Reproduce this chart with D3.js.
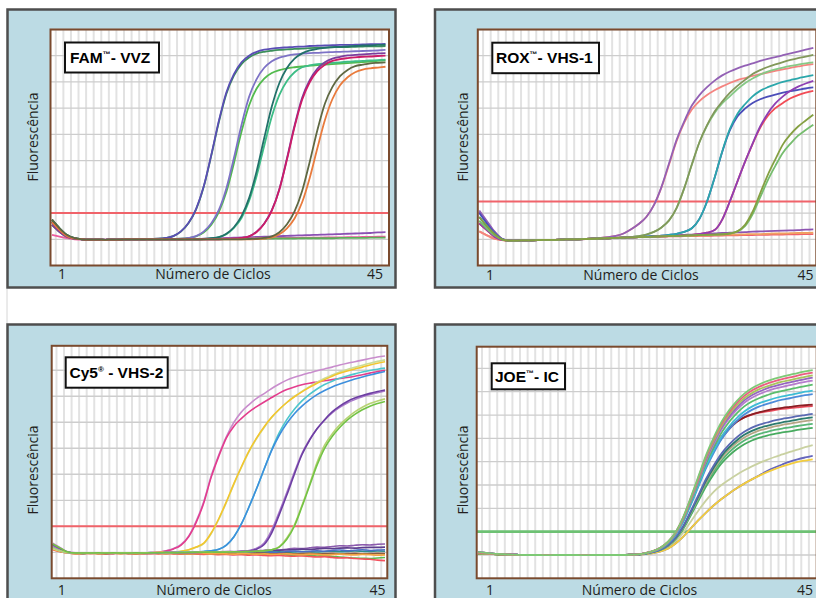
<!DOCTYPE html>
<html>
<head>
<meta charset="utf-8">
<script src="https://cdn.jsdelivr.net/npm/d3@7"></script>
<style>
  body { margin: 0; background: #fff; }
  .axislabel { font-family: "Open Sans", sans-serif; font-size: 14px; fill: #231f20; }
  .title { font-family: "Liberation Sans", Arial, sans-serif; font-weight: bold; font-size: 15.5px; fill: #000; }
</style>
</head>
<body>
<div id="chart"></div>
<script>
// cycle numbers, one value per cycle in every curve below
var cycles = d3.range(1, 46);
var xTickLabels = ["1", "45"];
var xTitle = "Número de Ciclos";
var yTitle = "Fluorescência";

// ---- FAM - VVZ ----
var famTitle = ["FAM", "™", "- VVZ"];
var famThreshold = 2;
var famCurves = [
  [1.55,1.3,1.1,1.02,1,0.99,0.99,0.99,1,1,1,1,1,1,1,1,1,1,1.01,1.01,1.02,1.03,1.04,1.05,1.06,1.07,1.08,1.09,1.1,1.11,1.12,1.13,1.14,1.15,1.16,1.17,1.18,1.19,1.2,1.21,1.22,1.23,1.24,1.26,1.27],
  [1.17,1.1,1.04,1,0.99,0.99,0.99,0.99,1,1,1,1,1,1,1,1,1,1,1,1.01,1.01,1.01,1.02,1.02,1.02,1.03,1.03,1.04,1.04,1.04,1.05,1.05,1.05,1.06,1.06,1.06,1.07,1.07,1.07,1.08,1.08,1.09,1.09,1.1,1.1],
  [1.7,1.38,1.13,1.03,1,0.99,0.99,0.98,0.99,0.99,1,1,1,1,1,1,1,1,1,1,1,1.01,1.01,1.01,1.01,1.02,1.02,1.02,1.02,1.03,1.03,1.03,1.03,1.04,1.04,1.04,1.04,1.04,1.05,1.05,1.05,1.05,1.06,1.06,1.06],
  [1.75,1.42,1.16,1.04,1,0.99,0.99,0.98,0.99,0.99,1,1,1,1.01,1.02,1.05,1.12,1.29,1.61,2.13,2.98,4.17,5.45,6.54,7.24,7.68,7.93,8.08,8.15,8.19,8.22,8.24,8.26,8.27,8.29,8.3,8.31,8.32,8.33,8.33,8.34,8.35,8.36,8.36,8.37],
  [1.65,1.35,1.12,1.03,1,0.99,0.99,0.98,0.99,0.99,1,1,1,1.01,1.02,1.05,1.12,1.3,1.62,2.15,3,4.2,5.5,6.6,7.3,7.75,8,8.15,8.23,8.27,8.3,8.32,8.34,8.35,8.37,8.38,8.39,8.4,8.41,8.41,8.42,8.43,8.44,8.44,8.45],
  [1.55,1.28,1.09,1.02,1,0.99,0.99,0.98,0.99,0.99,1,1,1,1,1,1,1.01,1.02,1.05,1.11,1.26,1.55,2.03,2.8,3.9,5.1,6.1,6.75,7.13,7.34,7.45,7.52,7.56,7.59,7.62,7.64,7.66,7.68,7.7,7.72,7.74,7.76,7.78,7.8,7.82],
  [1.65,1.35,1.12,1.03,1,0.99,0.99,0.98,0.99,0.99,1,1,1,1,1,1,1.01,1.02,1.05,1.12,1.29,1.6,2.11,2.94,4.1,5.36,6.43,7.11,7.54,7.79,7.93,8,8.05,8.08,8.1,8.11,8.13,8.14,8.15,8.16,8.17,8.18,8.19,8.2,8.22],
  [1.65,1.35,1.12,1.03,1,0.99,0.99,0.98,0.99,0.99,1,1,1,1,1,1,1,1,1,1,1.01,1.03,1.08,1.19,1.43,1.81,2.46,3.41,4.57,5.68,6.51,7.04,7.37,7.56,7.63,7.68,7.71,7.73,7.75,7.77,7.79,7.8,7.82,7.83,7.85],
  [1.75,1.42,1.16,1.04,1,0.99,0.99,0.98,0.99,0.99,1,1,1,1,1,1,1,1,1,1,1.01,1.04,1.08,1.21,1.46,1.88,2.57,3.6,4.86,6.06,6.96,7.53,7.89,8.09,8.2,8.26,8.3,8.33,8.34,8.36,8.37,8.39,8.39,8.41,8.42],
  [1.55,1.28,1.09,1.02,1,0.99,0.99,0.98,0.99,0.99,1,1,1,1,1,1,1,1,1,1,1,1,1,1.01,1.02,1.05,1.11,1.29,1.6,2.11,2.92,4.09,5.34,6.4,7.07,7.5,7.75,7.89,7.96,8.01,8.03,8.05,8.07,8.09,8.1],
  [1.65,1.35,1.12,1.03,1,0.99,0.99,0.98,0.99,0.99,1,1,1,1,1,1,1,1,1,1,1,1,1,1.01,1.02,1.05,1.11,1.28,1.59,2.09,2.9,4.04,5.28,6.32,6.99,7.41,7.66,7.8,7.87,7.91,7.94,7.96,7.97,7.99,8],
  [1.65,1.35,1.12,1.03,1,0.99,0.99,0.98,0.99,0.99,1,1,1,1,1,1,1,1,1,1,1,1,1,1,1,1,1,1.01,1.03,1.07,1.19,1.42,1.79,2.41,3.34,4.46,5.54,6.35,6.87,7.18,7.37,7.47,7.52,7.55,7.58],
  [1.75,1.42,1.16,1.04,1,0.99,0.99,0.98,0.99,0.99,1,1,1,1,1,1,1,1,1,1,1,1,1,1,1,1,1.01,1.02,1.05,1.11,1.27,1.57,2.06,2.84,3.95,5.15,6.17,6.81,7.22,7.46,7.6,7.66,7.71,7.73,7.75]
];
var famColors = ["#8b50b4", "#ec5b9d", "#5cae5a", "#3b8f5a", "#5a4db5", "#52bb4e", "#7d72c6",
                 "#3dbd86", "#22716a", "#7b3d9e", "#cc1c68", "#e97b3d", "#5f6842"];

// ---- ROX - VHS-1 ----
var roxTitle = ["ROX", "™", "- VHS-1"];
var roxThreshold = 2.44;
var roxCurves = [
  [2.05,1.65,1.28,1.02,0.95,0.95,0.96,0.96,0.97,0.98,0.98,0.99,1,1,1.01,1.02,1.03,1.04,1.05,1.06,1.08,1.09,1.1,1.12,1.13,1.14,1.16,1.17,1.18,1.2,1.21,1.22,1.24,1.25,1.26,1.27,1.29,1.3,1.31,1.32,1.33,1.34,1.35,1.37,1.38],
  [1.6,1.35,1.1,0.98,0.95,0.95,0.96,0.96,0.97,0.98,0.98,0.99,1,1,1.01,1.02,1.03,1.04,1.05,1.06,1.07,1.08,1.09,1.1,1.1,1.11,1.11,1.12,1.12,1.13,1.13,1.14,1.14,1.15,1.15,1.16,1.16,1.17,1.17,1.18,1.18,1.19,1.19,1.2,1.2],
  [1.3,1.15,1.02,0.97,0.95,0.95,0.96,0.96,0.97,0.98,0.98,0.99,1,1,1.01,1.02,1.03,1.04,1.05,1.06,1.07,1.08,1.09,1.1,1.11,1.12,1.12,1.13,1.14,1.15,1.15,1.16,1.17,1.18,1.18,1.19,1.2,1.2,1.21,1.22,1.22,1.23,1.24,1.24,1.25],
  [1.3,1.15,1.02,0.97,0.95,0.95,0.96,0.96,0.97,0.98,0.98,0.99,1,1,1.01,1.03,1.05,1.08,1.13,1.22,1.38,1.58,1.85,2.3,2.98,3.85,4.75,5.45,5.95,6.27,6.5,6.68,6.83,6.96,7.07,7.15,7.23,7.3,7.36,7.42,7.48,7.54,7.59,7.64,7.68],
  [2.1,1.7,1.3,1.02,0.95,0.95,0.96,0.96,0.97,0.98,0.98,0.99,1,1,1.01,1.03,1.05,1.08,1.13,1.22,1.38,1.58,1.85,2.3,3,3.9,4.8,5.5,6.1,6.5,6.8,7.05,7.25,7.4,7.52,7.62,7.71,7.8,7.88,7.95,8.02,8.09,8.16,8.23,8.3],
  [1.7,1.4,1.15,0.99,0.95,0.95,0.96,0.96,0.97,0.98,0.98,0.99,1,1,1.01,1.02,1.03,1.04,1.05,1.07,1.09,1.12,1.18,1.28,1.45,1.72,2.2,2.95,3.85,4.7,5.33,5.82,6.18,6.45,6.72,6.95,7.13,7.28,7.39,7.48,7.55,7.61,7.66,7.71,7.75],
  [1.85,1.5,1.2,1,0.95,0.95,0.96,0.96,0.97,0.98,0.98,0.99,1,1,1.01,1.02,1.03,1.04,1.05,1.07,1.09,1.12,1.18,1.28,1.45,1.72,2.2,2.95,3.85,4.7,5.35,5.87,6.25,6.58,6.85,7.08,7.3,7.45,7.57,7.67,7.76,7.84,7.91,7.97,8.03],
  [2,1.6,1.25,1.01,0.95,0.95,0.96,0.96,0.97,0.98,0.98,0.99,1,1,1.01,1.02,1.03,1.04,1.05,1.06,1.07,1.08,1.1,1.12,1.14,1.17,1.21,1.28,1.42,1.78,2.44,3.35,4.33,5.15,5.68,5.98,6.2,6.34,6.44,6.52,6.59,6.65,6.7,6.75,6.79],
  [1.85,1.5,1.2,1,0.95,0.95,0.96,0.96,0.97,0.98,0.98,0.99,1,1,1.01,1.02,1.03,1.04,1.05,1.06,1.07,1.08,1.1,1.12,1.14,1.17,1.21,1.28,1.42,1.78,2.44,3.35,4.35,5.2,5.78,6.15,6.45,6.66,6.8,6.91,7,7.07,7.14,7.2,7.26],
  [1.6,1.35,1.1,0.98,0.95,0.95,0.96,0.96,0.97,0.98,0.98,0.99,1,1,1.01,1.02,1.03,1.04,1.05,1.06,1.07,1.08,1.09,1.1,1.11,1.12,1.13,1.15,1.17,1.2,1.25,1.35,1.75,2.44,3.2,3.95,4.63,5.25,5.7,6,6.2,6.38,6.5,6.59,6.66],
  [1.6,1.35,1.1,0.98,0.95,0.95,0.96,0.96,0.97,0.98,0.98,0.99,1,1,1.01,1.02,1.03,1.04,1.05,1.06,1.07,1.08,1.09,1.1,1.11,1.12,1.13,1.15,1.17,1.2,1.25,1.35,1.75,2.44,3.2,3.95,4.65,5.3,5.8,6.18,6.45,6.66,6.82,6.94,7.04],
  [1.7,1.4,1.15,0.99,0.95,0.95,0.96,0.96,0.97,0.98,0.98,0.99,1,1,1.01,1.02,1.03,1.04,1.05,1.06,1.07,1.08,1.09,1.1,1.11,1.12,1.13,1.14,1.15,1.16,1.17,1.18,1.19,1.22,1.3,1.5,1.95,2.6,3.25,3.8,4.3,4.65,4.95,5.17,5.37],
  [1.85,1.5,1.2,1,0.95,0.95,0.96,0.96,0.97,0.98,0.98,0.99,1,1,1.01,1.02,1.03,1.04,1.05,1.06,1.07,1.08,1.09,1.1,1.11,1.12,1.13,1.14,1.15,1.16,1.17,1.18,1.19,1.22,1.3,1.55,2.05,2.75,3.45,4.05,4.62,5,5.3,5.53,5.75]
];
var roxColors = ["#8d53b1", "#f0616b", "#f0a062", "#f48480", "#9361b5", "#86c986", "#82985a",
                 "#4b4db9", "#2ba7ab", "#f24b55", "#8f3fb3", "#76bd6e", "#85a042"];

// ---- Cy5 - VHS-2 ----
var cy5Title = ["Cy5", "®", " - VHS-2"];
var cy5Threshold = 2;
var cy5Curves = [
  [1.3,1.15,1,0.97,0.96,0.97,0.98,0.97,0.96,0.97,0.98,0.97,0.96,0.97,0.98,0.97,0.98,0.99,0.98,1,1.01,1,1.02,1.03,1.02,1.04,1.06,1.05,1.08,1.1,1.09,1.12,1.15,1.14,1.17,1.2,1.19,1.22,1.25,1.24,1.27,1.29,1.28,1.31,1.32],
  [1.25,1.1,0.99,0.97,0.97,0.96,0.97,0.98,0.97,0.96,0.97,0.98,0.97,0.97,0.98,0.98,0.97,0.98,0.99,0.98,0.99,1,1.01,1,1.02,1.03,1.02,1.05,1.06,1.05,1.08,1.09,1.1,1.12,1.11,1.13,1.15,1.14,1.16,1.17,1.16,1.18,1.19,1.19,1.2],
  [1.2,1.07,0.99,0.97,0.96,0.97,0.96,0.97,0.98,0.97,0.96,0.97,0.97,0.98,0.97,0.96,0.97,0.98,0.97,0.98,0.99,0.98,0.97,0.99,1,0.99,1.01,1,0.99,1.01,1.02,1,1.01,1.03,1.02,1.01,1.03,1.04,1.02,1.03,1.05,1.04,1.03,1.05,1.04],
  [1.18,1.06,0.98,0.96,0.96,0.97,0.98,0.96,0.97,0.97,0.98,0.96,0.97,0.98,0.97,0.98,0.96,0.97,0.98,0.97,0.96,0.98,0.99,0.97,0.98,1,0.98,0.99,1.02,1,0.99,1.03,1.05,1.02,1.04,1.06,1.04,1.07,1.09,1.06,1.08,1.1,1.07,1.09,1.1],
  [1.32,1.16,1,0.97,0.96,0.97,0.96,0.97,0.98,0.96,0.97,0.96,0.97,0.97,0.96,0.97,0.96,0.95,0.96,0.97,0.95,0.96,0.94,0.95,0.96,0.94,0.93,0.95,0.92,0.91,0.93,0.9,0.89,0.9,0.88,0.86,0.87,0.84,0.82,0.8,0.78,0.77,0.76,0.78,0.8],
  [1.1,1.02,0.97,0.95,0.95,0.96,0.95,0.94,0.95,0.96,0.95,0.94,0.95,0.95,0.94,0.95,0.94,0.93,0.94,0.93,0.92,0.93,0.91,0.92,0.9,0.91,0.89,0.9,0.88,0.87,0.88,0.86,0.85,0.86,0.84,0.82,0.83,0.8,0.78,0.79,0.76,0.74,0.73,0.7,0.68],
  [1.15,1.04,0.98,0.96,0.96,0.97,0.96,0.95,0.96,0.97,0.96,0.95,0.96,0.96,0.97,0.96,0.97,0.96,0.95,0.96,0.97,0.96,0.95,0.96,0.97,0.96,0.95,0.97,0.96,0.94,0.95,0.96,0.94,0.95,0.96,0.94,0.95,0.96,0.94,0.95,0.96,0.94,0.95,0.96,0.95],
  [1.12,1.03,0.97,0.95,0.95,0.96,0.95,0.96,0.97,0.95,0.96,0.95,0.96,0.97,0.96,0.95,0.96,0.95,0.94,0.95,0.96,0.94,0.95,0.94,0.93,0.95,0.94,0.93,0.94,0.92,0.93,0.94,0.92,0.91,0.93,0.92,0.9,0.91,0.93,0.91,0.9,0.92,0.91,0.89,0.9],
  [1.35,1.18,1.02,0.98,0.97,0.97,0.98,0.97,0.97,0.98,0.97,0.98,0.98,0.99,1.01,1.06,1.15,1.3,1.62,2.2,2.95,3.95,4.75,5.45,6,6.4,6.68,6.92,7.1,7.3,7.47,7.62,7.73,7.82,7.9,7.98,8.05,8.12,8.2,8.27,8.33,8.39,8.45,8.51,8.55],
  [1.28,1.12,1,0.97,0.97,0.98,0.97,0.97,0.98,0.98,0.97,0.97,0.98,0.99,1,1.05,1.13,1.28,1.6,2.15,2.9,3.9,4.7,5.4,5.85,6.15,6.4,6.6,6.78,6.95,7.12,7.26,7.36,7.44,7.5,7.55,7.6,7.64,7.68,7.72,7.77,7.83,7.89,7.95,8],
  [1.15,1.05,0.98,0.97,0.97,0.98,0.97,0.97,0.98,0.97,0.98,0.98,0.97,0.98,0.99,1,1.01,1.04,1.09,1.19,1.33,1.72,2.27,2.92,3.62,4.27,4.87,5.37,5.8,6.18,6.49,6.76,6.99,7.19,7.37,7.54,7.69,7.82,7.93,8.03,8.11,8.19,8.27,8.34,8.4],
  [1.22,1.08,0.99,0.97,0.97,0.97,0.97,0.98,0.97,0.98,0.98,0.97,0.98,0.98,0.99,1,1.01,1.04,1.1,1.2,1.35,1.75,2.3,2.95,3.65,4.3,4.9,5.4,5.83,6.2,6.5,6.76,6.98,7.17,7.34,7.5,7.64,7.77,7.88,7.97,8.05,8.12,8.2,8.27,8.33],
  [1.28,1.12,1,0.97,0.97,0.97,0.98,0.97,0.97,0.98,0.97,0.98,0.98,0.99,0.98,0.99,0.99,1,1,1.01,1.03,1.06,1.12,1.28,1.6,2.1,2.75,3.45,4.2,4.95,5.6,6.1,6.5,6.82,7.07,7.28,7.45,7.58,7.69,7.78,7.86,7.93,7.99,8.04,8.08],
  [1.2,1.07,0.99,0.97,0.96,0.97,0.97,0.98,0.97,0.97,0.98,0.97,0.98,0.98,0.98,0.99,0.99,1,1,1.01,1.03,1.06,1.12,1.28,1.6,2.1,2.75,3.45,4.2,4.92,5.5,5.96,6.33,6.62,6.86,7.06,7.22,7.36,7.47,7.57,7.66,7.74,7.82,7.89,7.95],
  [1.25,1.1,0.99,0.97,0.97,0.98,0.97,0.97,0.98,0.97,0.97,0.98,0.97,0.98,0.98,0.98,0.99,0.99,0.98,0.99,1,1.01,1.01,1.02,1.03,1.04,1.07,1.16,1.36,1.85,2.55,3.3,4.08,4.8,5.33,5.75,6.08,6.36,6.57,6.74,6.87,6.98,7.07,7.14,7.2],
  [1.3,1.14,1,0.97,0.97,0.97,0.98,0.97,0.97,0.98,0.97,0.98,0.98,0.97,0.98,0.99,0.99,0.98,0.99,0.99,1,1,1.01,1.01,1.02,1.03,1.05,1.12,1.3,1.75,2.45,3.2,4,4.75,5.3,5.75,6.1,6.4,6.62,6.8,6.93,7.03,7.11,7.18,7.24],
  [1.18,1.06,0.99,0.97,0.97,0.97,0.97,0.98,0.97,0.98,0.98,0.97,0.98,0.98,0.99,0.98,0.99,0.99,1,1,1.01,1,1.01,1.02,1.02,1.02,1.03,1.04,1.06,1.1,1.22,1.55,2.05,2.8,3.6,4.45,5.12,5.55,5.9,6.17,6.4,6.58,6.72,6.82,6.9],
  [1.32,1.16,1.01,0.97,0.97,0.97,0.98,0.97,0.98,0.97,0.97,0.98,0.97,0.98,0.98,0.99,0.98,0.99,0.99,1,1,1.01,1,1.01,1.02,1.02,1.03,1.04,1.06,1.1,1.2,1.5,2,2.75,3.55,4.35,5,5.45,5.8,6.08,6.3,6.48,6.62,6.72,6.8]
];
var cy5Colors = ["#8b5bad", "#5d3d8d", "#2d8d8d", "#4b6dc5", "#5dbb4d", "#f3515d", "#8d5d3d", "#f3a545",
                 "#c98dcd", "#e33d8d", "#cbdd97", "#f3c52d", "#4dc7cd", "#3d8fdd", "#a777c9", "#6d3fa3",
                 "#b7d373", "#73c345"];

// ---- JOE - IC ----
var joeTitle = ["JOE", "™", "- IC"];
var joeThreshold = 2;
var joeCurves = [
  [1.12,1.09,1.06,1.04,1.02,1.01,1,1,1,0.99,1,1,1,1,0.99,1,1,1,1,1,1.01,1.02,1.05,1.1,1.2,1.35,1.6,1.98,2.45,2.92,3.35,3.72,4,4.23,4.44,4.63,4.8,4.95,5.08,5.2,5.31,5.42,5.52,5.62,5.71],
  [1.09,1.07,1.05,1.03,1.02,1.01,1,1,0.99,1,1,1,0.99,1,1,1,1,1,1,1,1.01,1.02,1.04,1.08,1.15,1.28,1.5,1.8,2.15,2.5,2.83,3.13,3.4,3.64,3.86,4.06,4.24,4.42,4.6,4.75,4.88,5,5.1,5.18,5.25],
  [1.06,1.05,1.04,1.02,1.01,1,1,0.99,1,1,0.99,1,1,1,1,1,1,0.99,1,1,1.01,1.02,1.04,1.08,1.15,1.28,1.5,1.8,2.15,2.5,2.83,3.13,3.4,3.64,3.86,4.06,4.24,4.4,4.55,4.68,4.8,4.9,4.99,5.05,5.1],
  [1.06,1.05,1.04,1.02,1.01,1,1,0.99,1,1,0.99,1,1,1,1,1,1,0.99,1,1,1.01,1.02,1.05,1.12,1.22,1.4,1.69,2.13,2.72,3.34,3.95,4.47,4.92,5.26,5.53,5.75,5.91,6.03,6.12,6.19,6.26,6.3,6.36,6.41,6.45],
  [1.09,1.07,1.05,1.03,1.02,1.01,1,1,0.99,1,1,1,0.99,1,1,1,1,1,1,1,1.01,1.02,1.06,1.12,1.23,1.41,1.71,2.17,2.77,3.41,4.05,4.58,5.04,5.4,5.68,5.91,6.07,6.19,6.28,6.36,6.42,6.47,6.53,6.58,6.62],
  [1.12,1.09,1.06,1.04,1.02,1.01,1,1,1,0.99,1,1,1,1,0.99,1,1,1,1,1,1.01,1.02,1.06,1.12,1.23,1.42,1.73,2.2,2.82,3.48,4.13,4.68,5.16,5.52,5.81,6.04,6.21,6.34,6.43,6.51,6.58,6.63,6.69,6.74,6.78],
  [1.06,1.05,1.04,1.02,1.01,1,1,0.99,1,1,0.99,1,1,1,1,1,1,0.99,1,1,1.01,1.02,1.06,1.13,1.24,1.43,1.74,2.23,2.86,3.53,4.2,4.76,5.24,5.61,5.91,6.15,6.32,6.45,6.54,6.62,6.69,6.74,6.8,6.86,6.9],
  [1.09,1.07,1.05,1.03,1.02,1.01,1,1,0.99,1,1,1,0.99,1,1,1,1,1,1,1,1.01,1.02,1.06,1.13,1.24,1.44,1.76,2.26,2.91,3.59,4.28,4.85,5.35,5.73,6.04,6.28,6.46,6.59,6.68,6.77,6.84,6.89,6.95,7,7.05],
  [1.12,1.09,1.06,1.04,1.02,1.01,1,1,1,0.99,1,1,1,1,0.99,1,1,1,1,1,1.01,1.03,1.08,1.17,1.31,1.57,1.98,2.6,3.42,4.25,5,5.6,6.08,6.45,6.72,6.9,7.02,7.1,7.16,7.21,7.26,7.3,7.33,7.36,7.38],
  [1.06,1.05,1.04,1.02,1.01,1,1,0.99,1,1,0.99,1,1,1,1,1,1,0.99,1,1,1.01,1.03,1.08,1.16,1.3,1.55,1.95,2.55,3.35,4.15,4.9,5.5,6,6.4,6.7,6.9,7.03,7.12,7.2,7.26,7.31,7.35,7.39,7.42,7.45],
  [1.09,1.07,1.05,1.03,1.02,1.01,1,1,0.99,1,1,1,0.99,1,1,1,1,1,1,1,1.01,1.03,1.07,1.15,1.28,1.5,1.87,2.44,3.18,3.96,4.74,5.39,5.96,6.39,6.74,7.02,7.22,7.37,7.48,7.58,7.66,7.72,7.79,7.85,7.9],
  [1.12,1.09,1.06,1.04,1.02,1.01,1,1,1,0.99,1,1,1,1,0.99,1,1,1,1,1,1.01,1.03,1.07,1.15,1.28,1.52,1.89,2.47,3.22,4.02,4.82,5.49,6.07,6.51,6.87,7.15,7.36,7.51,7.62,7.72,7.8,7.86,7.93,8,8.05],
  [1.06,1.05,1.04,1.02,1.01,1,1,0.99,1,1,0.99,1,1,1,1,1,1,0.99,1,1,1.01,1.03,1.07,1.16,1.29,1.53,1.92,2.52,3.3,4.13,4.96,5.65,6.24,6.7,7.07,7.37,7.58,7.73,7.85,7.96,8.04,8.1,8.18,8.24,8.3],
  [1.09,1.07,1.05,1.03,1.02,1.01,1,1,0.99,1,1,1,0.99,1,1,1,1,1,1,1,1.01,1.03,1.08,1.16,1.3,1.55,1.94,2.56,3.36,4.21,5.06,5.76,6.38,6.85,7.22,7.53,7.74,7.9,8.03,8.13,8.21,8.28,8.36,8.42,8.48],
  [1.12,1.09,1.06,1.04,1.02,1.01,1,1,1,0.99,1,1,1,1,0.99,1,1,1,1,1,1.01,1.03,1.08,1.16,1.31,1.56,1.96,2.58,3.4,4.26,5.12,5.84,6.46,6.94,7.32,7.63,7.85,8.01,8.14,8.24,8.33,8.4,8.47,8.54,8.6],
  [1.06,1.05,1.04,1.02,1.01,1,1,0.99,1,1,0.99,1,1,1,1,1,1,0.99,1,1,1.01,1.03,1.08,1.17,1.31,1.56,1.97,2.6,3.43,4.3,5.18,5.9,6.53,7.02,7.41,7.72,7.94,8.11,8.23,8.34,8.43,8.5,8.57,8.64,8.7],
  [1.09,1.07,1.05,1.03,1.02,1.01,1,1,0.99,1,1,1,0.99,1,1,1,1,1,1,1,1.01,1.03,1.08,1.17,1.32,1.57,1.99,2.63,3.47,4.35,5.24,5.98,6.62,7.11,7.51,7.82,8.05,8.22,8.35,8.45,8.54,8.61,8.69,8.76,8.82],
  [1.12,1.09,1.06,1.04,1.02,1.01,1,1,1,0.99,1,1,1,1,0.99,1,1,1,1,1,1.01,1.03,1.08,1.17,1.32,1.58,2,2.65,3.5,4.4,5.3,6.05,6.7,7.2,7.6,7.92,8.15,8.32,8.45,8.56,8.65,8.72,8.8,8.87,8.93]
];
var joeColors = ["#c9d1a1", "#6565bd", "#f3cd3d", "#47ab5f", "#57b777", "#b5a785", "#2b7b6d", "#5b69b3",
                 "#e94b5b", "#8b1d23", "#4d8bd9", "#3dbdd5", "#5bbd6b", "#b57dcd", "#9565c1", "#a9c55d",
                 "#ec5d81", "#7dc975"];

// layout of the four panels (pixels)
var panels = [
  { title: famTitle, curves: famCurves, colors: famColors, threshold: famThreshold, thColor: "#f0636a",
    yMax: 9, box: [7.5, 9.5, 388, 278], plot: [50.5, 29.5, 338.5, 236], xr: [1.5, 335],
    labY: 279, labX: [62, 213, 375], yLab: [33, 137], tbox: [65, 42.5, 94, 30], tpos: [70, 63], lw: 1.8 },
  { title: roxTitle, curves: roxCurves, colors: roxColors, threshold: roxThreshold, thColor: "#f0636a",
    yMax: 9, box: [435, 9.5, 400, 278], plot: [477.8, 29.5, 338.5, 236], xr: [1.5, 335.5],
    labY: 280, labX: [490, 641, 805.5], yLab: [463.3, 137], tbox: [492.3, 42.7, 106.7, 30.5], tpos: [496, 63], lw: 1.8 },
  { title: cy5Title, curves: cy5Curves, colors: cy5Colors, threshold: cy5Threshold, thColor: "#f0636a",
    yMax: 8.94, box: [7.5, 324.5, 388, 290], plot: [51.7, 345.8, 335.6, 232.5], xr: [1, 333.3],
    labY: 595, labX: [61.7, 214, 377.5], yLab: [33.3, 470], tbox: [65.7, 357.3, 102, 30.4], tpos: [69.5, 377.5], lw: 1.6 },
  { title: joeTitle, curves: joeCurves, colors: joeColors, threshold: joeThreshold, thColor: "#6dc173",
    yMax: 9.93, box: [435, 324.5, 400, 290], plot: [476.7, 346.7, 340, 231.6], xr: [1.5, 336],
    labY: 595, labX: [490, 639.5, 805], yLab: [463.3, 470], tbox: [491.7, 363.3, 73.3, 26], tpos: [495, 381.5], lw: 1.8 }
];

var svg = d3.select("#chart").append("svg")
  .attr("width", 816)
  .attr("height", 598)
  .style("display", "block");

svg.append("rect").attr("width", 816).attr("height", 598).attr("fill", "#fff");

// faint separator line on the left between the panels
svg.append("line")
  .attr("x1", 7).attr("x2", 7).attr("y1", 289).attr("y2", 324)
  .attr("stroke", "#d6d6d6").attr("stroke-width", 1);

function drawPanel(p, idx) {
  var g = svg.append("g");

  g.append("rect")
    .attr("x", p.box[0]).attr("y", p.box[1])
    .attr("width", p.box[2]).attr("height", p.box[3])
    .attr("fill", "#bcdbe4")
    .attr("stroke", "#4e4e4e")
    .attr("stroke-width", 2.5);

  var w = p.plot[2], h = p.plot[3];
  var plot = g.append("g").attr("transform", "translate(" + p.plot[0] + "," + p.plot[1] + ")");

  plot.append("rect").attr("width", w).attr("height", h).attr("fill", "#fff");

  var xScale = d3.scaleLinear().domain([1, 45]).range(p.xr);
  var yScale = d3.scaleLinear().domain([0, p.yMax]).range([h, 0]);

  // one vertical grid line between every two cycles
  plot.selectAll(".vgrid")
    .data(d3.range(1.5, 45, 1))
    .enter().append("line")
    .attr("x1", function(d) { return xScale(d); })
    .attr("x2", function(d) { return xScale(d); })
    .attr("y1", 0).attr("y2", h)
    .attr("stroke", "#e2e2e2")
    .attr("stroke-width", 2);

  plot.selectAll(".hgrid")
    .data(d3.range(1, Math.floor(p.yMax) + 1))
    .enter().append("line")
    .attr("x1", 0).attr("x2", w)
    .attr("y1", function(d) { return yScale(d); })
    .attr("y2", function(d) { return yScale(d); })
    .attr("stroke", "#cdcdcd")
    .attr("stroke-width", 1.3);

  plot.append("clipPath").attr("id", "clip" + idx)
    .append("rect").attr("width", w).attr("height", h);

  // threshold
  plot.append("line")
    .attr("x1", 0).attr("x2", w)
    .attr("y1", yScale(p.threshold)).attr("y2", yScale(p.threshold))
    .attr("stroke", p.thColor)
    .attr("stroke-width", idx == 3 ? 2.6 : 2);

  var line = d3.line()
    .x(function(d, i) { return xScale(cycles[i]); })
    .y(function(d) { return yScale(d); })
    .curve(d3.curveMonotoneX);

  plot.append("g").attr("clip-path", "url(#clip" + idx + ")")
    .selectAll("path")
    .data(p.curves)
    .enter().append("path")
    .attr("d", line)
    .attr("fill", "none")
    .attr("stroke", function(d, i) { return p.colors[i]; })
    .attr("stroke-width", p.lw)
    .attr("stroke-linejoin", "round");

  plot.append("rect")
    .attr("width", w).attr("height", h)
    .attr("fill", "none")
    .attr("stroke", "#7a4a2e")
    .attr("stroke-width", 2);

  // title box
  g.append("rect")
    .attr("x", p.tbox[0]).attr("y", p.tbox[1])
    .attr("width", p.tbox[2]).attr("height", p.tbox[3])
    .attr("fill", "#fff")
    .attr("stroke", "#111")
    .attr("stroke-width", 2);

  var t = g.append("text").attr("class", "title")
    .attr("x", p.tpos[0]).attr("y", p.tpos[1]);
  t.append("tspan").text(p.title[0]);
  t.append("tspan").attr("font-size", 8).attr("dy", -6).text(p.title[1]);
  t.append("tspan").attr("dy", 6).text(p.title[2]);

  // x labels
  g.append("text").attr("class", "axislabel")
    .attr("x", p.labX[0]).attr("y", p.labY)
    .attr("text-anchor", "middle").text(xTickLabels[0]);
  g.append("text").attr("class", "axislabel")
    .attr("x", p.labX[1]).attr("y", p.labY)
    .attr("text-anchor", "middle").text(xTitle);
  g.append("text").attr("class", "axislabel")
    .attr("x", p.labX[2]).attr("y", p.labY)
    .attr("text-anchor", "middle").text(xTickLabels[1]);

  // y label
  g.append("text").attr("class", "axislabel")
    .attr("transform", "translate(" + (p.yLab[0] + 5) + "," + p.yLab[1] + ") rotate(-90)")
    .attr("text-anchor", "middle")
    .text(yTitle);
}

panels.forEach(drawPanel);
</script>
</body>
</html>
